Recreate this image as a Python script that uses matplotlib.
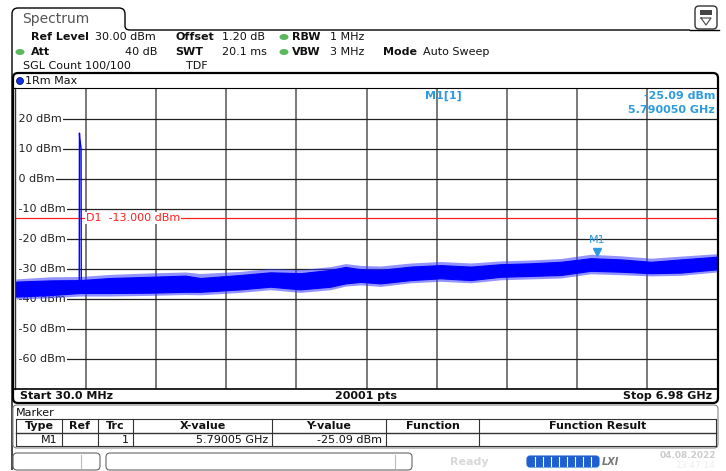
import numpy as np
import matplotlib
matplotlib.use("Agg")
import matplotlib.pyplot as plt
from matplotlib.patches import FancyBboxPatch, Ellipse, Rectangle, PathPatch
from matplotlib.path import Path
import matplotlib.transforms as mtransforms

# ----------------------------- data -----------------------------
F_START, F_STOP = 0.030, 6.980          # GHz
REF_TOP, REF_BOTTOM = 30, -70            # dBm
Y_TICKS = [20, 10, 0, -10, -20, -30, -40, -50, -60]

# noise floor band (upper / lower edge of the max-hold trace, plus the highest spikes)
NOISE_FREQ = [0.030, 0.368, 0.665, 0.963, 1.360, 1.708, 1.857, 2.254, 2.552, 2.850,
              3.148, 3.297, 3.445, 3.644, 3.942, 4.240, 4.538, 4.835, 5.133, 5.431,
              5.729, 6.027, 6.325, 6.623, 6.980]
NOISE_TOP = [-34.2, -33.8, -33.7, -33.0, -32.6, -32.2, -33.0, -32.0, -31.1, -31.4,
             -30.3, -29.3, -30.1, -30.3, -29.2, -28.7, -29.2, -28.4, -28.1, -27.6,
             -26.4, -26.8, -27.6, -26.8, -25.9]
NOISE_BOT = [-39.2, -38.7, -38.0, -38.0, -37.9, -37.6, -37.6, -36.8, -35.9, -36.8,
             -35.9, -34.8, -34.3, -34.8, -33.7, -33.1, -33.7, -32.6, -32.3, -32.0,
             -30.6, -30.9, -31.4, -31.2, -30.1]
NOISE_PEAK = [-33.3, -32.6, -32.5, -31.8, -31.3, -31.0, -31.5, -30.8, -29.8, -30.2,
              -29.2, -28.2, -28.8, -29.0, -28.0, -27.5, -28.0, -27.3, -27.0, -26.5,
              -25.1, -25.6, -26.4, -25.7, -24.9]
NOISE_DIP = [-40.0, -39.6, -39.0, -39.0, -38.8, -38.5, -38.6, -37.8, -36.9, -37.8,
             -36.9, -35.7, -35.3, -35.8, -34.6, -34.1, -34.6, -33.6, -33.3, -33.0,
             -31.6, -31.9, -32.3, -32.1, -31.0]

# carrier spike near 0.67 GHz
SPIKE_FREQ = [0.657, 0.659, 0.662, 0.675, 0.677]
SPIKE_DBM = [-37.0, 15.3, 13.5, 10.2, -38.0]

D1_LEVEL = -13.0
MARKER_FREQ = 5.79005
MARKER_DBM = -25.09

TABLE_HEAD = ["Type", "Ref", "Trc", "X-value", "Y-value", "Function", "Function Result"]
TABLE_ROW = ["M1", "", "1", "5.79005 GHz", "-25.09 dBm", "", ""]

# ----------------------------- figure -----------------------------
W, H = 726, 471
fig = plt.figure(figsize=(W / 100, H / 100), dpi=100)
fig.patch.set_facecolor("white")

# pixel overlay for all the instrument chrome
ov = fig.add_axes([0, 0, 1, 1], zorder=3)
ov.set_xlim(0, W); ov.set_ylim(H, 0)
ov.axis("off"); ov.patch.set_alpha(0)

FS = 8
MB = "#2E9BE0"   # marker blue
GRN = "#5CB85C"

# tab "Spectrum" + top line
verts = [(12, 470), (12, 14), (12, 8), (18, 8), (119, 8), (125, 8), (125, 14),
         (125, 26), (125, 30), (130, 30), (690, 30)]
codes = [Path.MOVETO, Path.LINETO, Path.CURVE3, Path.CURVE3, Path.LINETO,
         Path.CURVE3, Path.CURVE3, Path.LINETO, Path.CURVE3, Path.CURVE3, Path.LINETO]
ov.add_patch(PathPatch(Path(verts, codes), fill=False, ec="black", lw=1.0))
ov.plot([690, 719], [30, 30], color="black", lw=1.0)
ov.text(22, 19, "Spectrum", fontsize=10, color="#555555", va="center")

# small icon top right
ov.add_patch(FancyBboxPatch((695, 6), 22, 23, boxstyle="round,pad=0,rounding_size=4",
                            fc="white", ec="#333333", lw=1.0))
ov.add_patch(Rectangle((700, 10), 12, 5, fc="#444444", ec="none"))
ov.plot([701, 711, 706, 701], [18, 18, 25, 18], color="#444444", lw=0.8)

# header settings
def hdr(x, y, s, bold=False, ha="left"):
    ov.text(x, y, s, fontsize=FS, va="center", ha=ha, color="#111111",
            fontweight="bold" if bold else "normal")

hdr(31, 37, "Ref Level", True); hdr(95, 37, "30.00 dBm")
hdr(175, 37, "Offset", True); hdr(222, 37, "1.20 dB")
hdr(292, 37, "RBW", True); hdr(330, 37, "1 MHz")
hdr(31, 52, "Att", True); hdr(157, 52, "40 dB", ha="right")
hdr(175, 52, "SWT", True); hdr(222, 52, "20.1 ms")
hdr(292, 52, "VBW", True); hdr(330, 52, "3 MHz")
hdr(383, 52, "Mode", True); hdr(423, 52, "Auto Sweep")
hdr(23, 66, "SGL Count 100/100"); hdr(186, 66, "TDF")
for (cx, cy) in [(284, 37), (20, 52), (284, 52)]:
    ov.add_patch(Ellipse((cx, cy), 9, 6, fc=GRN, ec="none"))

# trace window frame
ov.add_patch(FancyBboxPatch((13, 73), 705, 330, boxstyle="round,pad=0,rounding_size=5",
                            fc="none", ec="black", lw=1.6))
ov.plot([15, 15], [88, 389], color="#333333", lw=1.0)
ov.plot([13, 718], [88, 88], color="black", lw=0.8)
ov.plot([13, 718], [389, 389], color="black", lw=1.2)
ov.add_patch(Ellipse((20, 81), 7, 7, fc="#1030E0", ec="#000060", lw=0.5))
hdr(25, 81, "1Rm Max")
hdr(20, 396, "Start 30.0 MHz", True)
hdr(366, 396, "20001 pts", True, ha="center")
hdr(712, 396, "Stop 6.98 GHz", True, ha="right")

# marker info top right
ov.text(425, 96, "M1[1]", fontsize=FS, color=MB, va="center", fontweight="bold")
ov.text(715, 96, f"{MARKER_DBM:.2f} dBm", fontsize=FS, color=MB, va="center",
        ha="right", fontweight="bold")
ov.text(715, 110, f"{MARKER_FREQ:.6f} GHz", fontsize=FS, color=MB, va="center",
        ha="right", fontweight="bold")

# marker table
ov.add_patch(FancyBboxPatch((13, 405), 705, 43, boxstyle="round,pad=0,rounding_size=4",
                            fc="none", ec="#888888", lw=0.8))
hdr(16, 413, "Marker")
col_edges = [16, 62, 98, 133, 272, 386, 479, 716]
ov.plot([16, 716], [419, 419], color="#333333", lw=0.8)
ov.plot([16, 716], [433, 433], color="#333333", lw=1.0)
ov.plot([16, 716], [446, 446], color="#333333", lw=0.8)
for xe in col_edges:
    ov.plot([xe, xe], [419, 446], color="#333333", lw=0.8)
for i, name in enumerate(TABLE_HEAD):
    xc = (col_edges[i] + col_edges[i + 1]) / 2
    hdr(xc, 426, name, True, ha="center")
for i, val in enumerate(TABLE_ROW):
    if val:
        hdr(col_edges[i + 1] - 4, 440, val, ha="right")

# status bar
ov.add_patch(FancyBboxPatch((13, 453), 87, 17, boxstyle="round,pad=0,rounding_size=4",
                            fc="white", ec="#666666", lw=0.8))
ov.plot([81, 81], [455, 468], color="#bbbbbb", lw=0.8)
ov.add_patch(FancyBboxPatch((106, 453), 306, 17, boxstyle="round,pad=0,rounding_size=4",
                            fc="white", ec="#666666", lw=0.8))
ov.plot([395, 395], [455, 468], color="#bbbbbb", lw=0.8)
ov.text(469, 462, "Ready", fontsize=FS, color="#d8d8d8", va="center", ha="center",
        fontweight="bold")
ov.add_patch(FancyBboxPatch((527, 456), 72, 11, boxstyle="round,pad=0,rounding_size=3",
                            fc="#1E5FD0", ec="#1E5FD0", lw=0.8))
for k in range(1, 9):
    xs = 527 + k * 8
    ov.plot([xs, xs], [457, 466], color="white", lw=0.8)
ov.text(610, 462, "LXI", fontsize=7, color="#777777", va="center", ha="center",
        fontweight="bold", style="italic")
ov.text(716, 456, "04.08.2022", fontsize=6.5, color="#cccccc", va="center", ha="right",
        fontweight="bold")
ov.text(716, 466, "13:47:14", fontsize=6.5, color="#eeeeee", va="center", ha="right")

# ----------------------------- spectrum plot -----------------------------
x0, x1, y0, y1 = 16, 717, 89, 389
ax = fig.add_axes([x0 / W, 1 - y1 / H, (x1 - x0) / W, (y1 - y0) / H], zorder=2)
ax.patch.set_alpha(0)
ax.set_xlim(F_START, F_STOP)
ax.set_ylim(REF_BOTTOM, REF_TOP)
for s in ax.spines.values():
    s.set_visible(False)
ax.set_xticks([]); ax.set_yticks([])

for f in np.linspace(F_START, F_STOP, 11)[1:-1]:
    ax.axvline(f, color="#555555", lw=1.1, zorder=1)
for lvl in range(REF_BOTTOM + 10, REF_TOP, 10):
    ax.axhline(lvl, color="#222222", lw=0.9, zorder=1)

lbl_tr = mtransforms.blended_transform_factory(ax.transAxes, ax.transData)
for t in Y_TICKS:
    # leading space widens the white box so the grid line starts after the label
    ax.text(-0.002, t, f" {t} dBm", transform=lbl_tr, fontsize=FS, va="center",
            ha="left", color="#222222", zorder=2,
            bbox=dict(fc="white", ec="none", pad=1.5))

# display line D1
ax.axhline(D1_LEVEL, color="#FF2020", lw=0.9, zorder=3)
ax.text(0.1, D1_LEVEL, f"D1  {D1_LEVEL:.3f} dBm", transform=lbl_tr, fontsize=FS,
        va="center", ha="left", color="#FF2020", zorder=3,
        bbox=dict(fc="white", ec="none", pad=0.6))

# trace: light outer band for the spikes, solid core band
ax.fill_between(NOISE_FREQ, NOISE_DIP, NOISE_PEAK, color="#3A3AFF", alpha=0.55,
                lw=0, zorder=4)
ax.fill_between(NOISE_FREQ, NOISE_BOT, NOISE_TOP, color="#0000FF", lw=0.8, zorder=4)
ax.plot(SPIKE_FREQ, SPIKE_DBM, color="#0000FF", lw=1.0, zorder=4)

# marker M1
up = mtransforms.offset_copy(ax.transData, fig=fig, x=0, y=2, units="dots")
ax.plot([MARKER_FREQ], [MARKER_DBM], marker="v", ms=6, color=MB, transform=up, zorder=5)
ax.annotate("M1", (MARKER_FREQ, MARKER_DBM), xytext=(0, 10), textcoords="offset points",
            ha="center", va="center", fontsize=FS, color=MB, zorder=5)

fig.savefig("out.png", dpi=100, facecolor="white")
